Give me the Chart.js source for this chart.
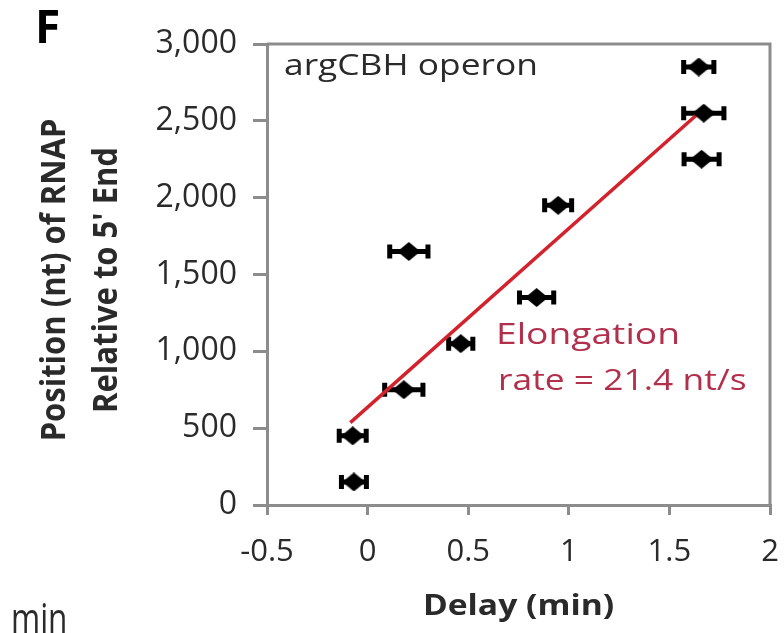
<!DOCTYPE html>
<html>
<head>
<meta charset="utf-8">
<script src="https://cdn.jsdelivr.net/npm/chart.js@4.4.1/dist/chart.umd.min.js"></script>
<style>
  html, body { margin: 0; padding: 0; background: #ffffff; }
  #wrap { position: relative; width: 784px; height: 633px; }
</style>
</head>
<body>
<div id="wrap"><canvas id="c" width="784" height="633"></canvas></div>
<script>
// RNAP position along the argCBH operon versus arrival delay
const delayMin    = [-0.068, -0.074, 0.180, 0.463, 0.205, 0.840, 0.947, 1.660, 1.671, 1.646];
const delayErrMin = [ 0.072,  0.077, 0.105, 0.070, 0.105, 0.095, 0.077, 0.097, 0.110, 0.085];
const positionNt  = [150, 450, 750, 1050, 1650, 1350, 1950, 2250, 2550, 2850];

// Linear fit endpoints (delay, position)
const fitDelay    = [-0.086, 1.681];
const fitPosition = [536, 2592];

const xTicks = [-0.5, 0, 0.5, 1, 1.5, 2];
const yTicks = [0, 500, 1000, 1500, 2000, 2500, 3000];

const FONT = "'Open Sans', 'DejaVu Sans', sans-serif";
const AXIS_GREY = '#8c8c8c';
const TEXT_DARK = '#2a2a2a';

const points = delayMin.map((d, i) => ({ x: d, y: positionNt[i] }));
const fitLine = fitDelay.map((d, i) => ({ x: d, y: fitPosition[i] }));

// Slightly wide black diamond marker
function diamondMarker(w, h) {
  const c = document.createElement('canvas');
  c.width = w; c.height = h;
  const g = c.getContext('2d');
  g.fillStyle = '#000';
  g.beginPath();
  g.moveTo(w / 2, 0); g.lineTo(w, h / 2); g.lineTo(w / 2, h); g.lineTo(0, h / 2);
  g.closePath();
  g.fill();
  return c;
}
const marker = diamondMarker(23, 19);

// Horizontal error bars with end caps
const errorBars = {
  id: 'errorBars',
  beforeDatasetsDraw(chart) {
    const { ctx, scales: { x, y } } = chart;
    ctx.save();
    ctx.strokeStyle = '#000';
    ctx.lineWidth = 5;
    ctx.lineCap = 'butt';
    delayMin.forEach((d, i) => {
      const py = y.getPixelForValue(positionNt[i]);
      const x0 = x.getPixelForValue(d - delayErrMin[i]);
      const x1 = x.getPixelForValue(d + delayErrMin[i]);
      ctx.beginPath();
      ctx.moveTo(x0, py); ctx.lineTo(x1, py);
      ctx.moveTo(x0 + 2, py - 7); ctx.lineTo(x0 + 2, py + 7);
      ctx.moveTo(x1 - 2, py - 7); ctx.lineTo(x1 - 2, py + 7);
      ctx.stroke();
    });
    ctx.restore();
  }
};

function wideText(ctx, text, x, y, sx) {
  ctx.save();
  ctx.translate(x, y);
  ctx.scale(sx, 1);
  ctx.fillText(text, 0, 0);
  ctx.restore();
}

// Frame on top/right, titles and annotations
const decorations = {
  id: 'decorations',
  afterDraw(chart) {
    const { ctx, chartArea: a } = chart;
    ctx.save();
    ctx.strokeStyle = AXIS_GREY;
    ctx.lineWidth = 3;
    ctx.beginPath();
    ctx.moveTo(a.left, a.top);
    ctx.lineTo(a.right, a.top);
    ctx.lineTo(a.right, a.bottom);
    ctx.stroke();

    ctx.textBaseline = 'alphabetic';
    ctx.textAlign = 'left';
    ctx.fillStyle = '#000';
    ctx.font = `bold 46px ${FONT}`;
    ctx.fillText('F', 35, 43);

    ctx.fillStyle = TEXT_DARK;
    ctx.font = `29px ${FONT}`;
    wideText(ctx, 'argCBH operon', 284, 75, 1.22);

    ctx.fillStyle = '#b3304c';
    ctx.font = `30px ${FONT}`;
    wideText(ctx, 'Elongation', 496, 344, 1.24);
    wideText(ctx, 'rate = 21.4 nt/s', 498, 390, 1.18);

    ctx.fillStyle = TEXT_DARK;
    ctx.font = `bold 28px ${FONT}`;
    ctx.textAlign = 'center';
    wideText(ctx, 'Delay (min)', (a.left + a.right) / 2, 615, 1.2);

    ctx.save();
    ctx.translate(65, 280);
    ctx.rotate(-Math.PI / 2);
    ctx.scale(1, 1.12);
    ctx.font = `bold 31px ${FONT}`;
    ctx.fillText('Position (nt) of RNAP', 0, 0);
    ctx.fillText('Relative to 5\' End', 0, 46);
    ctx.restore();

    ctx.textAlign = 'left';
    ctx.font = `42px ${FONT}`;
    wideText(ctx, 'min', 11, 633, 0.75);
    ctx.restore();
  }
};

new Chart(document.getElementById('c'), {
  type: 'scatter',
  data: {
    datasets: [
      {
        label: 'RNAP position',
        data: points,
        pointStyle: marker,
        pointRadius: 10,
        pointHoverRadius: 10,
        order: 1
      },
      {
        label: 'Linear fit',
        type: 'line',
        data: fitLine,
        showLine: true,
        borderColor: '#d4222c',
        borderWidth: 3.5,
        pointRadius: 0,
        fill: false,
        order: 2
      }
    ]
  },
  options: {
    responsive: false,
    animation: false,
    devicePixelRatio: 1,
    layout: { padding: { top: 44, right: 14, left: 0, bottom: 0 } },
    plugins: {
      legend: { display: false },
      tooltip: { enabled: false },
      title: { display: false }
    },
    scales: {
      x: {
        type: 'linear',
        min: -0.5,
        max: 2,
        afterFit(scale) {
          scale.height = 128;
          scale.paddingLeft = 0;
          scale.paddingRight = 0;
        },
        afterBuildTicks(scale) { scale.ticks = xTicks.map(v => ({ value: v })); },
        border: { display: true, color: AXIS_GREY, width: 3 },
        grid: { drawOnChartArea: false, drawTicks: true, tickLength: 10, color: AXIS_GREY, lineWidth: 3 },
        ticks: {
          color: TEXT_DARK,
          font: { family: FONT, size: 31 },
          padding: 19,
          maxRotation: 0,
          callback: v => String(v)
        }
      },
      y: {
        type: 'linear',
        min: 0,
        max: 3000,
        afterFit(scale) {
          scale.width = 267;
          scale.paddingTop = 0;
          scale.paddingBottom = 0;
        },
        afterBuildTicks(scale) { scale.ticks = yTicks.map(v => ({ value: v })); },
        border: { display: true, color: AXIS_GREY, width: 3 },
        grid: { drawOnChartArea: false, drawTicks: true, tickLength: 14, color: AXIS_GREY, lineWidth: 3 },
        ticks: {
          color: TEXT_DARK,
          font: { family: FONT, size: 32 },
          padding: 16,
          callback: v => v.toLocaleString('en-US')
        }
      }
    }
  },
  plugins: [errorBars, decorations]
});
</script>
</body>
</html>
